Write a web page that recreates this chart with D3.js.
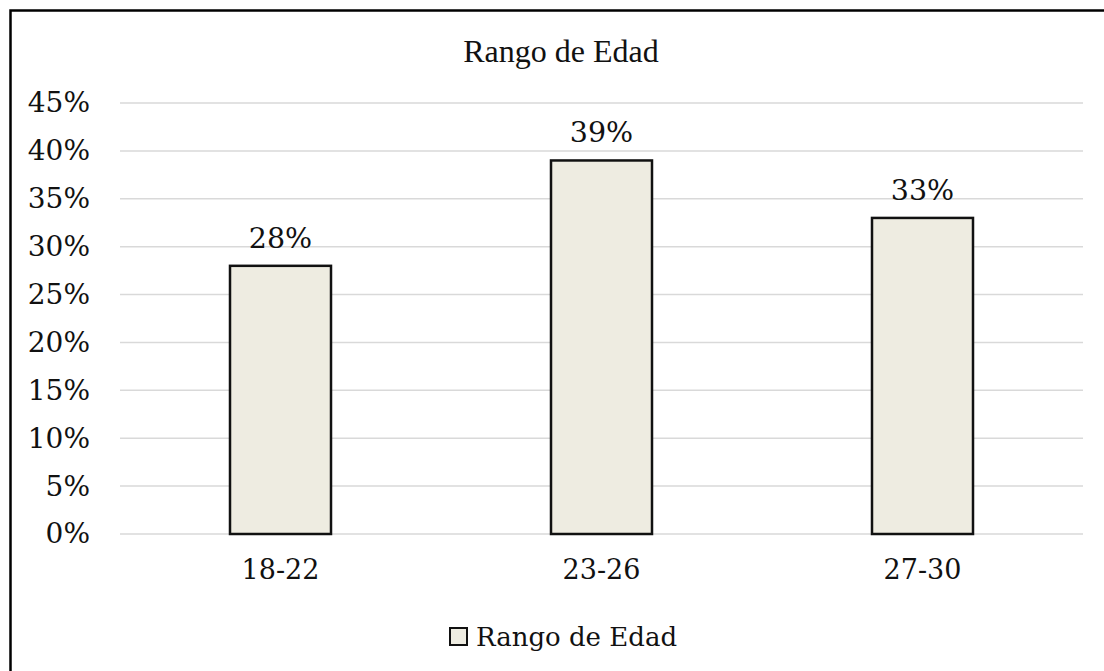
<!DOCTYPE html>
<html>
<head>
<meta charset="utf-8">
<script src="https://cdn.jsdelivr.net/npm/d3@7"></script>
<style>
body { margin: 0; background: #fff; }
</style>
</head>
<body>
<div id="vis"></div>
<script>
var width = 1104;
var height = 671;

var categories = ['18-22', '23-26', '27-30'];
var values = [28, 39, 33];
var tickValues = [0, 5, 10, 15, 20, 25, 30, 35, 40, 45];
var seriesName = 'Rango de Edad';

var svg = d3.select('#vis')
    .append('svg')
    .attr('width', width)
    .attr('height', height);

// frame (only top/left visible, rest is cropped)
svg.append('rect')
    .attr('x', 10.5).attr('y', 10.5)
    .attr('width', 1400).attr('height', 1000)
    .attr('fill', 'none')
    .attr('stroke', '#000')
    .attr('stroke-width', 2.5);

var plotLeft = 120, plotRight = 1083;
var x = d3.scaleBand().domain(categories).range([plotLeft, plotRight]);
var y = d3.scaleLinear().domain([0, 45]).range([534, 103]);
var barW = 101;

// gridlines
svg.append('g').selectAll('line')
    .data(tickValues)
    .enter().append('line')
    .attr('x1', plotLeft).attr('x2', plotRight)
    .attr('y1', function (d) { return y(d); })
    .attr('y2', function (d) { return y(d); })
    .attr('stroke', '#d9d9d9')
    .attr('stroke-width', 1.5);

// y axis labels
var yAxis = d3.axisLeft(y)
    .tickValues(tickValues)
    .tickFormat(function (d) { return d + '%'; })
    .tickSize(0)
    .tickPadding(0);
var yg = svg.append('g')
    .attr('transform', 'translate(90,0)')
    .call(yAxis);
yg.select('.domain').remove();
yg.selectAll('text')
    .attr('font-family', 'DejaVu Serif')
    .attr('font-size', 28)
    .attr('fill', '#111');

// x axis labels
var xAxis = d3.axisBottom(x).tickSize(0).tickPadding(0);
var xg = svg.append('g')
    .attr('transform', 'translate(0,' + 560 + ')')
    .call(xAxis);
xg.select('.domain').remove();
xg.selectAll('text')
    .attr('font-family', 'DejaVu Serif')
    .attr('font-size', 27)
    .attr('fill', '#111');

// bars
svg.append('g').selectAll('rect')
    .data(values)
    .enter().append('rect')
    .attr('x', function (d, i) { return x(categories[i]) + x.bandwidth() / 2 - barW / 2; })
    .attr('y', function (d) { return y(d); })
    .attr('width', barW)
    .attr('height', function (d) { return y(0) - y(d); })
    .attr('fill', '#eeece1')
    .attr('stroke', '#111')
    .attr('stroke-width', 2.5);

// data labels
svg.append('g').selectAll('text')
    .data(values)
    .enter().append('text')
    .attr('x', function (d, i) { return x(categories[i]) + x.bandwidth() / 2; })
    .attr('y', function (d) { return y(d) - 18; })
    .attr('text-anchor', 'middle')
    .attr('font-family', 'DejaVu Serif')
    .attr('font-size', 28.5)
    .attr('fill', '#111')
    .text(function (d) { return d + '%'; });

// title
svg.append('text')
    .attr('x', 561).attr('y', 62)
    .attr('text-anchor', 'middle')
    .attr('font-family', 'Liberation Serif')
    .attr('font-size', 32)
    .attr('fill', '#111')
    .text(seriesName);

// legend
var legend = svg.append('g');
legend.append('rect')
    .attr('x', 450).attr('y', 628)
    .attr('width', 17).attr('height', 17)
    .attr('fill', '#eeece1')
    .attr('stroke', '#111')
    .attr('stroke-width', 2);
legend.append('text')
    .attr('x', 476).attr('y', 646)
    .attr('font-family', 'DejaVu Serif')
    .attr('font-size', 26)
    .attr('fill', '#111')
    .text(seriesName);
</script>
</body>
</html>
